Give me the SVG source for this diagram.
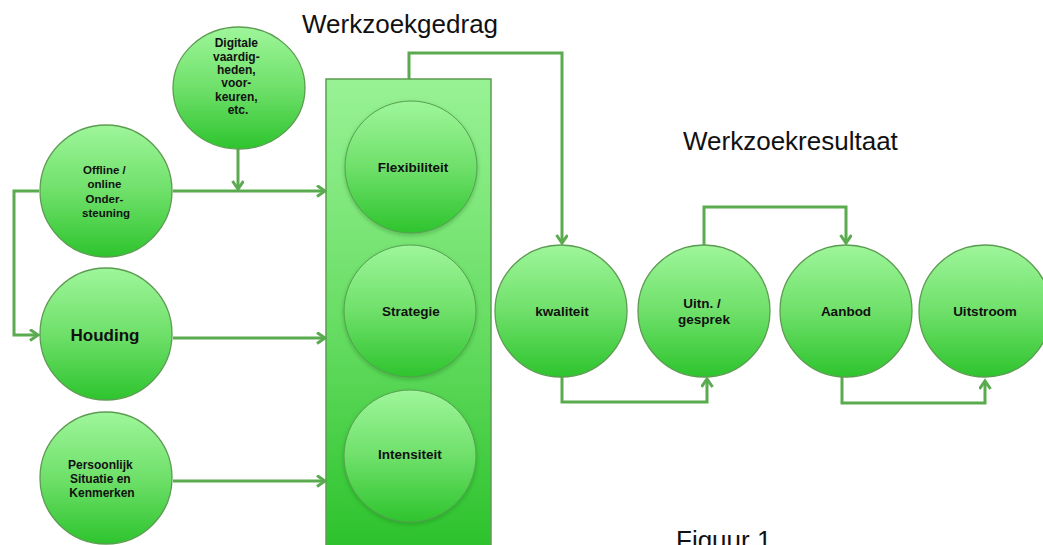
<svg xmlns="http://www.w3.org/2000/svg" width="1043" height="545" viewBox="0 0 1043 545">
<defs>
<linearGradient id="gC" x1="0" y1="0" x2="0" y2="1">
<stop offset="0" stop-color="#9ef69a"/>
<stop offset="0.5" stop-color="#6fe06a"/>
<stop offset="1" stop-color="#2ec42e"/>
</linearGradient>
<linearGradient id="gR" x1="0" y1="0" x2="0" y2="1">
<stop offset="0" stop-color="#98f294"/>
<stop offset="0.5" stop-color="#6ade66"/>
<stop offset="1" stop-color="#2cc22c"/>
</linearGradient>
<filter id="sh" x="-20%" y="-20%" width="140%" height="140%">
<feDropShadow dx="0" dy="2" stdDeviation="2" flood-color="#1a6a1a" flood-opacity="0.35"/>
</filter>
<marker id="ar" markerUnits="userSpaceOnUse" markerWidth="14" markerHeight="14" refX="10" refY="6" orient="auto">
<path d="M2,0.5 L10,6 L2,11.5" fill="none" stroke="#5aab4f" stroke-width="3" stroke-linejoin="miter"/>
</marker>
</defs>
<style>
.n{fill:url(#gC);stroke:#5c9c52;stroke-width:1.3}
.in{fill:url(#gC);stroke:#55a04e;stroke-width:1;filter:url(#sh)}
.c{fill:none;stroke:#5aab4f;stroke-width:3;marker-end:url(#ar)}
.c0{fill:none;stroke:#5aab4f;stroke-width:3}
.t{font-family:"Liberation Sans",Arial,sans-serif;font-weight:bold;fill:#111;text-anchor:middle}
.h{font-family:"Liberation Sans",Arial,sans-serif;fill:#111;font-size:26px}
</style>

<text class="h" x="302" y="33">Werkzoekgedrag</text>
<text class="h" x="683" y="150">Werkzoekresultaat</text>
<text class="h" x="676" y="549">Figuur 1</text>

<g id="connectors">
<path class="c" d="M173,191 H325"/>
<path class="c" d="M238,149 V189"/>
<path class="c" d="M39,191 H14 V335 H38"/>
<path class="c" d="M173,338 H325"/>
<path class="c" d="M173,481 H325"/>
<path class="c" d="M409,79 V53 H562 V243"/>
<path class="c" d="M562,377 V402 H707 V379"/>
<path class="c" d="M704,245 V207 H846 V243"/>
<path class="c" d="M842,377 V403 H985 V381"/>
</g>

<g id="werkzoekgedrag">
<rect x="326" y="79" width="165" height="470" fill="url(#gR)" stroke="#5c9c52" stroke-width="1.5"/>
</g>

<g id="flexibiliteit">
<circle class="in" cx="411" cy="167" r="66"/>
<text class="t" x="413" y="172" font-size="13.5">Flexibiliteit</text>
</g>
<g id="strategie">
<circle class="in" cx="410" cy="311" r="66"/>
<text class="t" x="411" y="316" font-size="13.5">Strategie</text>
</g>
<g id="intensiteit">
<circle class="in" cx="410" cy="456" r="66"/>
<text class="t" x="410" y="459" font-size="13.5">Intensiteit</text>
</g>

<g id="digitale">
<ellipse class="n" cx="239" cy="88" rx="66" ry="61"/>
<text class="t" font-size="12">
<tspan x="238" y="47">Digitale</tspan>
<tspan x="238" y="61">vaardig-</tspan>
<tspan x="238" y="74">heden,</tspan>
<tspan x="238" y="87">voor-</tspan>
<tspan x="238" y="101">keuren,</tspan>
<tspan x="238" y="114">etc.</tspan>
</text>
</g>

<g id="offline">
<circle class="n" cx="106" cy="191" r="66"/>
<text class="t" font-size="11.5">
<tspan x="106" y="174">Offline  /</tspan>
<tspan x="106" y="188">online</tspan>
<tspan x="106" y="203">Onder-</tspan>
<tspan x="106" y="217">steuning</tspan>
</text>
</g>

<g id="houding">
<circle class="n" cx="106" cy="334" r="66"/>
<text class="t" x="105" y="341" font-size="17">Houding</text>
</g>

<g id="persoonlijk">
<circle class="n" cx="106" cy="478" r="66"/>
<text class="t" font-size="12">
<tspan x="102" y="469">Persoonlijk</tspan>
<tspan x="102" y="483">Situatie en</tspan>
<tspan x="102" y="497">Kenmerken</tspan>
</text>
</g>

<g id="kwaliteit">
<circle class="n" cx="561" cy="311" r="66"/>
<text class="t" x="562" y="316" font-size="13.5">kwaliteit</text>
</g>
<g id="uitnodiging">
<circle class="n" cx="704" cy="311" r="66"/>
<text class="t" font-size="13.5">
<tspan x="704" y="308">Uitn. /</tspan>
<tspan x="704" y="324">gesprek</tspan>
</text>
</g>
<g id="aanbod">
<circle class="n" cx="846" cy="311" r="66"/>
<text class="t" x="846" y="316" font-size="13.5">Aanbod</text>
</g>
<g id="uitstroom">
<circle class="n" cx="985" cy="311" r="66"/>
<text class="t" x="985" y="316" font-size="13.5">Uitstroom</text>
</g>
</svg>
